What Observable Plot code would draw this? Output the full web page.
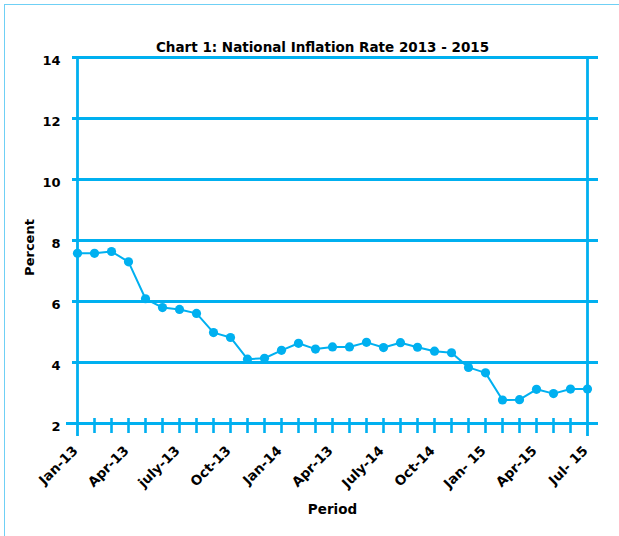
<!DOCTYPE html>
<html>
<head>
<meta charset="utf-8">
<script src="https://cdn.jsdelivr.net/npm/d3@7"></script>
<script src="https://cdn.jsdelivr.net/npm/@observablehq/plot@0.6"></script>
<style>
  html, body { margin: 0; padding: 0; background: #fff; }
  #wrap { position: relative; width: 619px; height: 536px; overflow: hidden; }
  #frame { position: absolute; left: 4px; top: 4px; width: 640px; height: 560px;
           border-left: 1.5px solid #6fd0f5; border-top: 1.5px solid #6fd0f5; box-sizing: border-box; }
  #chart { position: absolute; left: 0; top: 0; }
</style>
</head>
<body>
<div id="wrap"><div id="frame"></div><div id="chart"></div></div>
<script>
const title = "Chart 1: National Inflation Rate 2013 - 2015";
const periods = [
  "Jan-13","Feb-13","Mar-13","Apr-13","May-13","Jun-13","Jul-13","Aug-13","Sep-13","Oct-13","Nov-13","Dec-13",
  "Jan-14","Feb-14","Mar-14","Apr-14","May-14","Jun-14","Jul-14","Aug-14","Sep-14","Oct-14","Nov-14","Dec-14",
  "Jan-15","Feb-15","Mar-15","Apr-15","May-15","Jun-15","Jul-15"
];
const inflation = [
  7.58, 7.58, 7.64, 7.3, 6.09, 5.8, 5.74, 5.61, 4.98, 4.82, 4.11, 4.14,
  4.4, 4.63, 4.44, 4.51, 4.51, 4.66, 4.49, 4.65, 4.5, 4.37, 4.32, 3.84,
  3.66, 2.77, 2.78, 3.12, 2.98, 3.13, 3.13
];
const tickLabels = ["Jan-13","Apr-13","july-13","Oct-13","Jan-14","Apr-13","July-14","Oct-14","Jan- 15","Apr-15","Jul- 15"];
const yTicks = [2, 4, 6, 8, 10, 12, 14];

const blue = "#00b0f0";
const data = periods.map((p, i) => ({period: p, value: inflation[i]}));
const labelTicks = periods.filter((d, i) => i % 3 === 0);

const chart = Plot.plot({
  width: 619,
  height: 536,
  marginLeft: 77,
  marginRight: 32,
  marginTop: 57,
  marginBottom: 113,
  style: {fontFamily: "'DejaVu Sans', sans-serif", fontWeight: "bold", fontSize: "13px", color: "#000", background: "transparent"},
  x: {type: "point", domain: periods, padding: 0},
  y: {domain: [2, 14]},
  marks: [
    // horizontal gridlines extending past the frame
    Plot.ruleY(yTicks.filter(d => d > 2), {y: d => d, stroke: blue, strokeWidth: 2.8, insetLeft: -5, insetRight: -11}),
    Plot.ruleY([2], {stroke: blue, strokeWidth: 2.8, insetLeft: -11, insetRight: -11}),
    // left axis and right border
    Plot.ruleX([periods[0], periods[periods.length - 1]], {x: d => d, y1: 14, y2: 2, stroke: blue, strokeWidth: 2.8, insetBottom: -13}),
    // category tick marks crossing the baseline
    Plot.ruleX(periods.slice(1, -1), {x: d => d, y1: 2, y2: 2, stroke: blue, strokeWidth: 2.6, insetTop: -5, insetBottom: -10}),
    Plot.axisY({ticks: yTicks, tickSize: 0, tickPadding: 17, fontSize: 13, dy: 3, label: null}),
    Plot.text(["Percent"], {frameAnchor: "left", textAnchor: "middle", dx: -48, dy: 7, rotate: -90, text: d => d, fontSize: 13, fontWeight: "bold", fill: "#000"}),
    Plot.axisX({ticks: labelTicks, tickSize: 0, tickPadding: 25, dx: -2, tickRotate: -45, fontSize: 13.5,
      tickFormat: d => tickLabels[periods.indexOf(d) / 3], label: "Period", labelAnchor: "center", labelOffset: 90, labelArrow: "none"}),
    Plot.line(data, {x: "period", y: "value", stroke: blue, strokeWidth: 2}),
    Plot.dot(data, {x: "period", y: "value", fill: blue, r: 4.6}),
    Plot.text([title], {frameAnchor: "top", dy: -15, text: d => d, fontSize: 13.5, fontWeight: "bold", fill: "#000", dx: -10})
  ]
});
document.getElementById("chart").appendChild(chart);
</script>
</body>
</html>
